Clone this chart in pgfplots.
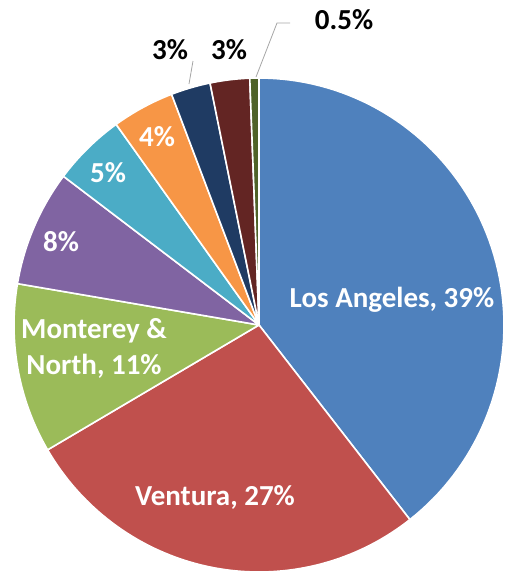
\documentclass[border=0pt]{standalone}
\usepackage{pgfplots}
\pgfplotsset{compat=1.18}
\usepackage{fontspec}
\setmainfont{Carlito}
\definecolor{cLA}{HTML}{4F81BD}
\definecolor{cVE}{HTML}{C0504D}
\definecolor{cMO}{HTML}{9BBB59}
\definecolor{cP}{HTML}{8064A2}
\definecolor{cT}{HTML}{4BACC6}
\definecolor{cO}{HTML}{F79646}
\definecolor{cDB}{HTML}{1F3B63}
\definecolor{cDR}{HTML}{632523}
\definecolor{cDG}{HTML}{4F6228}
\begin{document}
\begin{tikzpicture}
\begin{axis}[hide axis, scale only axis, width=505pt, height=573pt,
  xmin=0, xmax=505, ymin=0, ymax=573, y dir=reverse, clip=false]
\def\cx{259}\def\cy{325}\def\rx{245}\def\ry{247}
\gdef\a{0}
\pgfplotsforeachungrouped \v/\c in {39.4/cLA, 27.1/cVE, 11.1/cMO, 7.6/cP, 4.8/cT, 4.1/cO, 2.6/cDB, 2.6/cDR, 0.6/cDG}{%
  \pgfmathsetmacro\b{\a+\v*360/99.9}%
  \edef\tmp{\noexpand\addplot[fill=\c, draw=white, line width=1.6pt, line join=round, domain=\a:\b, samples=80, variable=\noexpand\t]
    ({\cx+\rx*sin(\noexpand\t)},{\cy-\ry*cos(\noexpand\t)}) -- (axis cs:\cx,\cy) -- cycle;}%
  \tmp
  \global\let\a\b
}
\begin{scope}[font=\fontsize{29}{36}\selectfont\bfseries]
\node[white] at (axis cs:392,300) {Los Angeles, 39\%};
\node[white] at (axis cs:215,497) {Ventura, 27\%};
\node[white, align=center] at (axis cs:94,348) {Monterey \&\\North, 11\%};
\node[white] at (axis cs:61,242) {8\%};
\node[white] at (axis cs:108,173) {5\%};
\node[white] at (axis cs:157,137) {4\%};
\node[black] at (axis cs:170,50) {3\%};
\node[black] at (axis cs:229,50) {3\%};
\node[black] at (axis cs:344,20) {0.5\%};
\end{scope}
\draw[gray!70, line width=0.8pt] (axis cs:189,84) -- (axis cs:193,61);
\draw[gray!70, line width=0.8pt] (axis cs:256,77) -- (axis cs:277,23) -- (axis cs:290,23);
\coordinate (bl) at (axis cs:0,573);
\coordinate (tr) at (axis cs:505,0);
\end{axis}
\pgfresetboundingbox
\useasboundingbox (bl) rectangle (tr);
\end{tikzpicture}
\end{document}
